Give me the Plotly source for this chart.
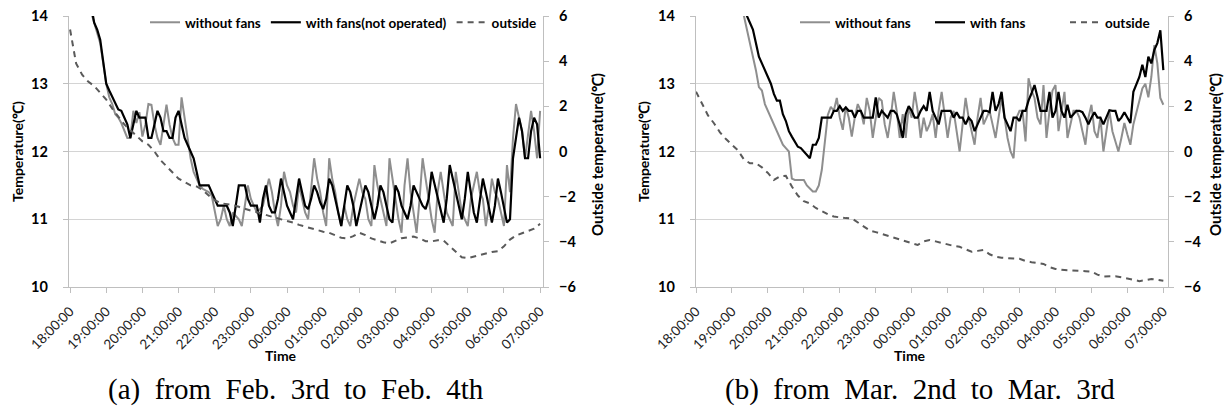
import numpy as np
import plotly.graph_objects as go

# ---------------- data ----------------
hour_labels = ["18:00:00", "19:00:00", "20:00:00", "21:00:00", "22:00:00", "23:00:00", "00:00:00",
               "01:00:00", "02:00:00", "03:00:00", "04:00:00", "05:00:00", "06:00:00", "07:00:00"]

# (a) Feb. 3rd -> Feb. 4th, inside temperatures every 5 minutes from 18:00
a_without = [16.3, 16.0, 15.7, 15.4, 15.0, 14.7, 14.4, 14.05, 13.9, 13.75,
             13.6, 13.3, 13.0, 12.8, 12.7, 12.55, 12.5, 12.42, 12.3, 12.2,
             12.2, 12.6, 12.42, 12.58, 12.22, 12.4, 12.7, 12.69, 12.4, 12.2,
             12.1, 12.4, 12.69, 12.4, 12.2, 12.1, 12.1, 12.8, 12.5, 12.2,
             11.9, 11.7, 11.6, 11.5, 11.45, 11.43, 11.4, 11.35, 11.1, 10.9,
             11.0, 11.2, 11.0, 10.9, 11.1, 11.05, 11.0, 10.9, 11.2, 11.5,
             11.3, 11.2, 11.1, 11.15, 11.2, 11.4, 11.6, 11.4, 11.1, 10.9,
             11.2, 11.7, 11.5, 11.4, 11.2, 11.1, 11.5, 11.3, 11.1, 11.0,
             11.4, 11.9, 11.6, 11.4, 11.1, 10.9, 11.9, 11.6, 11.4, 11.1,
             10.9, 11.2, 11.0, 10.9, 11.2, 11.4, 11.6, 11.4, 11.3, 11.0,
             10.9, 11.8, 11.5, 11.3, 11.1, 10.9, 11.9, 11.6, 11.3, 11.0,
             10.8, 11.5, 11.9, 11.4, 11.1, 10.8, 11.3, 11.9, 11.6, 11.3,
             11.0, 10.8, 11.4, 11.7, 11.4, 11.1, 11.0, 10.9, 11.7, 11.4,
             11.1, 11.0, 10.9, 11.3, 11.5, 11.7, 11.4, 11.3, 10.9, 11.2,
             11.6, 11.4, 11.3, 11.1, 10.9, 11.8, 11.4, 12.2, 12.7, 12.5,
             12.3, 11.9, 12.3, 12.6, 12.3, 11.9, 12.6]
a_with = [16.5, 16.2, 15.9, 15.6, 15.2, 14.9, 14.5, 14.15, 13.9, 13.8,
          13.65, 13.35, 13.0, 12.9, 12.8, 12.7, 12.62, 12.6, 12.5, 12.4,
          12.2, 12.4, 12.6, 12.5, 12.5, 12.5, 12.2, 12.2, 12.4, 12.6,
          12.5, 12.3, 12.3, 12.2, 12.2, 12.5, 12.6, 12.4, 12.2, 12.1,
          12.0, 11.9, 11.7, 11.5, 11.5, 11.5, 11.5, 11.4, 11.3, 11.2,
          11.2, 11.2, 11.2, 11.1, 10.9, 11.2, 11.5, 11.5, 11.5, 11.3,
          11.2, 11.2, 11.2, 10.95, 11.3, 11.5, 11.2, 11.1, 11.1, 11.3,
          11.6, 11.4, 11.2, 11.1, 11.0, 11.3, 11.6, 11.4, 11.2, 11.15,
          11.3, 11.5, 11.4, 11.25, 11.15, 11.3, 11.6, 11.5, 11.3, 11.1,
          10.9, 11.2, 11.5, 11.4, 11.2, 10.9, 11.1, 11.3, 11.5, 11.4,
          11.2, 11.0, 11.2, 11.5, 11.4, 11.2, 11.0, 10.95, 11.5, 11.4,
          11.2, 11.1, 11.0, 11.2, 11.5, 11.4, 11.3, 11.2, 11.15, 11.3,
          11.7, 11.5, 11.3, 11.1, 10.95, 11.3, 11.8, 11.6, 11.4, 11.2,
          11.0, 11.3, 11.7, 11.4, 11.1, 10.95, 11.3, 11.6, 11.4, 11.2,
          10.95, 11.2, 11.6, 11.4, 11.2, 10.95, 11.0, 11.9, 12.2, 12.5,
          12.3, 11.9, 11.9, 12.3, 12.5, 12.4, 11.9]
# outside temperature every 10 minutes from 18:00
a_outside = [5.4, 3.9, 3.4, 3.1, 2.9, 2.6, 2.3, 1.9, 1.55, 1.2,
             0.95, 0.7, 0.45, 0.3, 0.0, -0.38, -0.65, -0.95, -1.2, -1.35,
             -1.5, -1.55, -1.7, -1.95, -2.15, -2.29, -2.33, -2.37, -2.45, -2.55,
             -2.62, -2.68, -2.75, -2.85, -2.93, -3.0, -3.08, -3.15, -3.25, -3.33,
             -3.42, -3.5, -3.55, -3.6, -3.7, -3.82, -3.85, -3.75, -3.6, -3.7,
             -3.85, -3.95, -4.02, -4.07, -3.95, -3.84, -3.8, -3.77, -3.85, -3.97,
             -3.98, -3.93, -3.95, -4.2, -4.45, -4.68, -4.72, -4.65, -4.58, -4.52,
             -4.45, -4.42, -4.2, -3.9, -3.72, -3.62, -3.52, -3.42, -3.2]

# (b) Mar. 2nd -> Mar. 3rd
b_without = [17.2, 17.0, 16.8, 16.6, 16.4, 16.2, 16.0, 15.8, 15.6, 15.4,
             15.2, 15.0, 14.8, 14.6, 14.4, 14.2, 14.0, 13.8, 13.6, 13.4,
             13.2, 12.95, 12.9, 12.7, 12.6, 12.5, 12.4, 12.3, 12.2, 12.1,
             12.05, 12.0, 11.6, 11.58, 11.58, 11.58, 11.58, 11.5, 11.45, 11.41,
             11.41, 11.5, 11.73, 12.12, 12.54, 12.66, 12.6, 12.79, 12.5, 12.32,
             12.66, 12.5, 12.22, 12.5, 12.7, 12.6, 12.4, 12.79, 12.6, 12.2,
             12.5, 12.79, 12.75, 12.4, 12.2, 12.5, 12.88, 12.6, 12.2, 12.55,
             12.2, 12.65, 12.5, 12.88, 12.6, 12.2, 12.5, 12.3, 12.4, 12.55,
             12.2, 12.6, 12.88, 12.5, 12.2, 12.5, 12.6, 12.3, 12.0, 12.4,
             12.79, 12.5, 12.3, 12.1, 12.5, 12.79, 12.4, 12.5, 12.6, 12.4,
             12.2, 12.5, 12.79, 12.5, 12.2, 12.0, 11.9, 12.5, 12.6, 12.6,
             12.15, 13.08, 12.9, 12.79, 12.5, 12.4, 12.98, 12.2, 12.6, 12.9,
             12.98, 12.3, 12.6, 12.88, 12.2, 12.4, 12.6, 12.6, 12.5, 12.3,
             12.1, 12.5, 12.69, 12.3, 12.2, 12.5, 12.0, 12.3, 12.6, 12.3,
             12.15, 12.0, 12.2, 12.42, 12.25, 12.1, 12.4, 12.6, 12.75, 12.93,
             13.0, 12.8, 13.1, 13.57, 13.3, 12.79, 12.69]
b_with = [17.5, 17.3, 17.1, 16.9, 16.7, 16.5, 16.3, 16.1, 15.9, 15.7,
          15.5, 15.3, 15.1, 14.8, 14.6, 14.4, 14.2, 14.0, 13.9, 13.8,
          13.6, 13.4, 13.3, 13.2, 13.1, 13.0, 12.85, 12.75, 12.75, 12.55,
          12.45, 12.3, 12.22, 12.15, 12.07, 12.05, 12.0, 11.95, 11.9, 12.1,
          12.1, 12.2, 12.5, 12.5, 12.5, 12.5, 12.6, 12.6, 12.67, 12.6,
          12.65, 12.6, 12.6, 12.5, 12.6, 12.6, 12.5, 12.5, 12.5, 12.5,
          12.8, 12.5, 12.6, 12.55, 12.5, 12.6, 12.6, 12.55, 12.4, 12.2,
          12.55, 12.67, 12.6, 12.5, 12.5, 12.6, 12.67, 12.6, 12.88, 12.6,
          12.5, 12.4, 12.6, 12.6, 12.6, 12.6, 12.5, 12.58, 12.5, 12.5,
          12.4, 12.5, 12.45, 12.3, 12.4, 12.5, 12.6, 12.6, 12.58, 12.88,
          12.6, 12.7, 12.88, 12.5, 12.4, 12.3, 12.5, 12.5, 12.45, 12.6,
          12.6, 12.75, 12.86, 12.98, 12.8, 12.6, 12.6, 12.6, 12.88, 12.5,
          12.6, 12.88, 12.6, 12.5, 12.69, 12.5, 12.55, 12.6, 12.6, 12.58,
          12.5, 12.4, 12.5, 12.58, 12.5, 12.5, 12.4, 12.5, 12.61, 12.6,
          12.6, 12.45, 12.5, 12.58, 12.5, 12.42, 12.88, 13.0, 13.1, 13.28,
          13.1, 13.4, 13.3, 13.5, 13.6, 13.79, 13.2]
b_outside = [2.65, 2.1, 1.6, 1.25, 0.85, 0.55, 0.3, 0.05, -0.35, -0.52,
             -0.52, -0.7, -0.95, -1.26, -1.1, -1.08, -1.55, -1.95, -2.2, -2.3,
             -2.5, -2.65, -2.78, -2.88, -2.93, -2.95, -2.96, -3.15, -3.35, -3.5,
             -3.57, -3.65, -3.72, -3.8, -3.9, -3.97, -4.05, -4.14, -3.98, -3.92,
             -3.98, -4.05, -4.1, -4.18, -4.22, -4.33, -4.44, -4.4, -4.36, -4.55,
             -4.66, -4.7, -4.73, -4.74, -4.75, -4.85, -4.9, -4.93, -4.98, -5.12,
             -5.2, -5.24, -5.25, -5.25, -5.26, -5.3, -5.32, -5.45, -5.54, -5.53,
             -5.52, -5.57, -5.62, -5.68, -5.74, -5.7, -5.65, -5.68, -5.72]

captions = ["(a)\u00a0 from\u00a0 Feb.\u00a0 3rd\u00a0 to\u00a0 Feb.\u00a0 4th",
            "(b)\u00a0 from\u00a0 Mar.\u00a0 2nd\u00a0 to\u00a0 Mar.\u00a0 3rd"]

# ---------------- figure ----------------
W, H = 1225, 410
GREY = "#8e8e8e"
DASH = "#5a5a5a"
AXC = "#bfbfbf"
GRID = "#d4d4d4"
FONT = "Lato"

def hours(vals, step_min):
    return np.arange(len(vals)) * step_min / 60.0

fig = go.Figure()

panels = [
    dict(wo=a_without, wi=a_with, out=a_outside, x="x", y="y", y2="y2", legend="legend",
         names=["without fans", "with fans(not operated)", "outside"]),
    dict(wo=b_without, wi=b_with, out=b_outside, x="x2", y="y3", y2="y4", legend="legend2",
         names=["without fans", "with fans", "outside"]),
]
for p in panels:
    fig.add_trace(go.Scatter(x=hours(p["wo"], 5), y=p["wo"], mode="lines", name=p["names"][0],
                             line=dict(color=GREY, width=2), xaxis=p["x"], yaxis=p["y"],
                             legend=p["legend"]))
    fig.add_trace(go.Scatter(x=hours(p["wi"], 5), y=p["wi"], mode="lines", name=p["names"][1],
                             line=dict(color="black", width=2.2), xaxis=p["x"], yaxis=p["y"],
                             legend=p["legend"]))
    fig.add_trace(go.Scatter(x=hours(p["out"], 10), y=p["out"], mode="lines", name=p["names"][2],
                             line=dict(color=DASH, width=2, dash="6px,5px"), xaxis=p["x"],
                             yaxis=p["y2"], legend=p["legend"]))

ydom = [1 - 287 / H, 1 - 16 / H]
dom_a = [69 / W, 543 / W]
dom_b = [696 / W, 1168 / W]

xcommon = dict(tickmode="array", tickvals=list(range(14)), ticktext=hour_labels, tickangle=-45,
               showline=True, linecolor=AXC, linewidth=1.3, ticks="outside", ticklen=5,
               tickcolor=AXC, showgrid=False, zeroline=False, automargin=False,
               ticklabelstandoff=5,
               tickfont=dict(family=FONT, size=13.5, color="#222"))
yleft = dict(range=[10, 14], tickvals=[10, 11, 12, 13, 14], showline=True, linecolor=AXC,
             linewidth=1.3, ticks="outside", ticklen=5, tickcolor=AXC, showgrid=True,
             gridcolor=GRID, gridwidth=1.3, zeroline=False, automargin=False,
             ticklabelstandoff=12,
             tickfont=dict(family=FONT, size=14.5, color="black", weight="bold"))
yright = dict(range=[-6, 6], tickvals=[-6, -4, -2, 0, 2, 4, 6], side="right", showline=True,
              linecolor=AXC, linewidth=1.3, ticks="outside", ticklen=5, tickcolor=AXC,
              showgrid=False, zeroline=False, automargin=False,
              ticklabelstandoff=7,
              tickfont=dict(family=FONT, size=14.5, color="black", weight="bold"))

legfont = dict(family=FONT, size=13.5, color="black", weight="bold")
fig.update_layout(
    width=W, height=H, margin=dict(l=0, r=0, t=0, b=0, autoexpand=False),
    paper_bgcolor="white", plot_bgcolor="white",
    font=dict(family=FONT),
    xaxis=dict(domain=dom_a, range=[-0.03, 13.08], anchor="y", **xcommon),
    yaxis=dict(domain=ydom, anchor="x", **yleft),
    yaxis2=dict(overlaying="y", anchor="x", **yright),
    xaxis2=dict(domain=dom_b, range=[0.0, 13.13], anchor="y3", **xcommon),
    yaxis3=dict(domain=ydom, anchor="x2", **yleft),
    yaxis4=dict(overlaying="y3", anchor="x2", **yright),
    legend=dict(orientation="h", x=145 / W, y=1 - 7 / H, xanchor="left", yanchor="top",
                bgcolor="rgba(0,0,0,0)", itemwidth=30, traceorder="normal", font=legfont),
    legend2=dict(orientation="h", x=795 / W, y=1 - 7 / H, xanchor="left", yanchor="top",
                 bgcolor="rgba(0,0,0,0)", itemwidth=30, traceorder="normal",
                 entrywidth=90, entrywidthmode="pixels", font=legfont),
    showlegend=True,
)

ann = []
for xc in [17, 643]:
    ann.append(dict(x=xc / W, y=1 - 152 / H, text="Temperature(℃)", textangle=-90, showarrow=False,
                    xref="paper", yref="paper", xanchor="center", yanchor="middle",
                    font=dict(family=FONT, size=14, color="black", weight="bold")))
for xc in [597, 1215]:
    ann.append(dict(x=xc / W, y=1 - 155 / H, text="Outside temperature(℃)", textangle=-90,
                    showarrow=False, xref="paper", yref="paper", xanchor="center",
                    yanchor="middle", font=dict(family=FONT, size=15, color="black", weight="bold")))
for xc in [281, 910]:
    ann.append(dict(x=xc / W, y=1 - 355 / H, text="Time", showarrow=False, xref="paper",
                    yref="paper", xanchor="center", yanchor="middle",
                    font=dict(family=FONT, size=14, color="black", weight="bold")))
for xc, cap in zip([296, 920], captions):
    ann.append(dict(x=xc / W, y=1 - 389 / H, text=cap, showarrow=False, xref="paper",
                    yref="paper", xanchor="center", yanchor="middle",
                    font=dict(family="Liberation Serif", size=29, color="black")))
fig.update_layout(annotations=ann)

fig.write_html("out.html")
